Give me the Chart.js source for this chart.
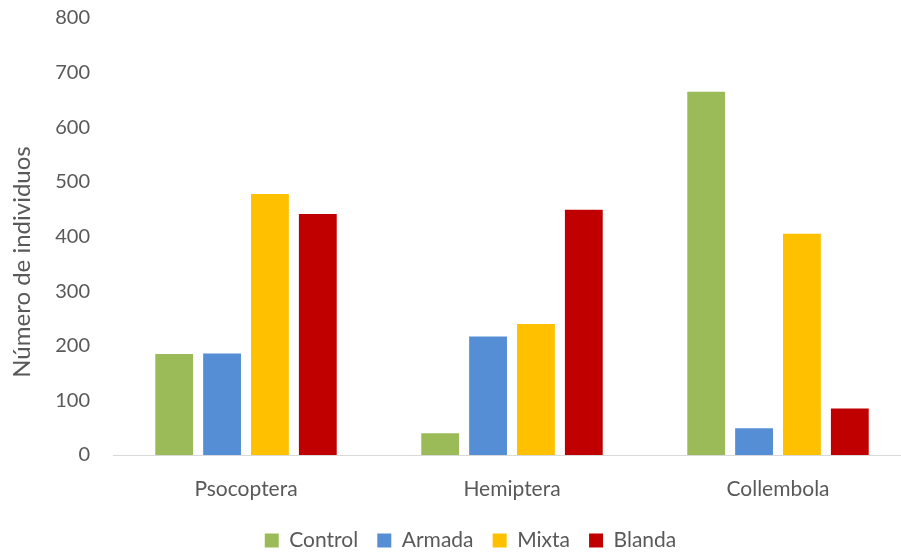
<!DOCTYPE html>
<html>
<head>
<meta charset="utf-8">
<script src="https://cdn.jsdelivr.net/npm/chart.js@4/dist/chart.umd.min.js"></script>
<style>
html,body{margin:0;padding:0;background:#fff;overflow:hidden;width:901px;height:553px;}
#wrap{position:absolute;left:0;top:0;width:911px;height:553px;}
</style>
</head>
<body>
<div id="wrap"><canvas id="c" width="911" height="553"></canvas></div>
<script>
const categories = ["Psocoptera", "Hemiptera", "Collembola"];
const seriesNames = ["Control", "Armada", "Mixta", "Blanda"];
const control = [185, 40, 665];
const armada = [186, 217, 49];
const mixta = [478, 240, 405];
const blanda = [441, 449, 85];
const yTicks = [0, 100, 200, 300, 400, 500, 600, 700, 800];
const colors = ["#9BBB59", "#558ED5", "#FFC000", "#C00000"];
const yTitle = "Número de individuos";

const FONT = "Lato, 'Liberation Sans', sans-serif";
const TXT = "#595959";

const titlePlugin = {
  id: 'yTitle',
  afterDraw(chart) {
    const ctx = chart.ctx;
    ctx.save();
    ctx.translate(22, 262);
    ctx.rotate(-Math.PI / 2);
    ctx.font = "24px " + FONT;
    ctx.fillStyle = TXT;
    ctx.textAlign = 'center';
    ctx.textBaseline = 'middle';
    ctx.fillText(yTitle, 0, 0);
    ctx.restore();
  }
};

new Chart(document.getElementById('c'), {
  type: 'bar',
  data: {
    labels: categories,
    datasets: [control, armada, mixta, blanda].map((d, i) => ({
      label: seriesNames[i],
      data: d,
      backgroundColor: colors[i],
      borderWidth: 0,
      categoryPercentage: 0.72,
      barPercentage: 0.79
    }))
  },
  options: {
    responsive: false,
    animation: false,
    layout: { padding: { left: 30, right: 0, top: 18, bottom: -8 } },
    plugins: {
      tooltip: { enabled: false },
      legend: {
        position: 'bottom',
        labels: {
          boxWidth: 14, boxHeight: 14, padding: 3,
          color: TXT,
          font: { family: FONT, size: 21 },
          generateLabels(chart) {
            const items = Chart.defaults.plugins.legend.labels.generateLabels(chart);
            items.forEach((it, i) => { if (i < items.length - 1) it.text = it.text + '   '; });
            return items;
          }
        }
      }
    },
    scales: {
      x: {
        grid: { display: false, drawTicks: false },
        border: { display: true, color: '#d9d9d9', width: 1 },
        ticks: { color: TXT, font: { family: FONT, size: 21 }, padding: 22 },
        afterFit(s) { s.height = 72; }
      },
      y: {
        min: 0, max: 800,
        afterBuildTicks(s) { s.ticks = yTicks.map(v => ({ value: v })); },
        grid: { display: false, drawTicks: true, tickLength: 20 },
        border: { display: false },
        ticks: { color: TXT, font: { family: FONT, size: 20 }, padding: 3 },
        afterFit(s) { s.width = 83; }
      }
    }
  },
  plugins: [titlePlugin]
});
</script>
</body>
</html>
